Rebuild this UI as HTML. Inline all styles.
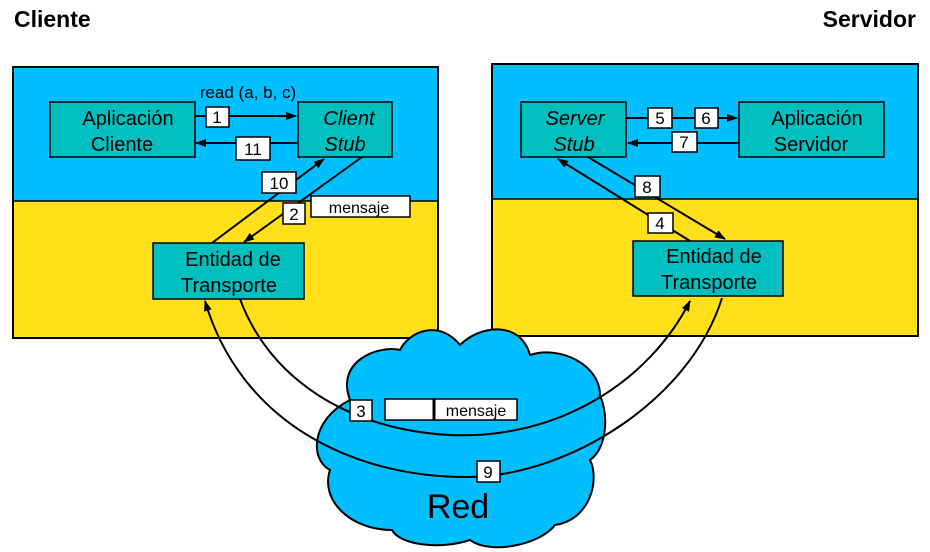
<!DOCTYPE html>
<html><head><meta charset="utf-8"><style>
body{margin:0;background:#fff;}
svg{display:block;font-family:"Liberation Sans",sans-serif;}
</style></head><body>
<svg width="930" height="552" viewBox="0 0 930 552">
<defs><marker id="a" markerWidth="11" markerHeight="8" refX="10" refY="4" orient="auto" markerUnits="userSpaceOnUse"><path d="M0,0L11,4L0,8z" fill="#000"/></marker></defs>
<text x="14" y="27" font-size="23" font-weight="bold">Cliente</text>
<text x="916" y="27" font-size="23" font-weight="bold" text-anchor="end">Servidor</text>
<rect x="13" y="67" width="425" height="134" fill="#00bfff"/>
<rect x="13" y="201" width="425" height="137" fill="#ffe01a"/>
<rect x="13" y="67" width="425" height="271" fill="none" stroke="#000" stroke-width="2"/>
<line x1="13" y1="201" x2="438" y2="201" stroke="#000" stroke-width="1.5"/>
<rect x="492" y="64" width="426" height="135" fill="#00bfff"/>
<rect x="492" y="199" width="426" height="137" fill="#ffe01a"/>
<rect x="492" y="64" width="426" height="272" fill="none" stroke="#000" stroke-width="2"/>
<line x1="492" y1="199" x2="918" y2="199" stroke="#000" stroke-width="1.5"/>
<g fill="#00bfbf" stroke="#000" stroke-width="1.5">
<rect x="50" y="102" width="145" height="55"/>
<rect x="298" y="102" width="94" height="55"/>
<rect x="153" y="243" width="151" height="56"/>
<rect x="521" y="102" width="105" height="55"/>
<rect x="739" y="102" width="145" height="55"/>
<rect x="633" y="241" width="150" height="55"/>
</g>
<g font-size="20" text-anchor="middle">
<text x="128" y="125">Aplicación</text><text x="122" y="151">Cliente</text>
<text x="349" y="125" font-style="italic">Client</text><text x="345" y="151" font-style="italic">Stub</text>
<text x="233" y="266">Entidad de</text><text x="229" y="292">Transporte</text>
<text x="575" y="125" font-style="italic">Server</text><text x="574" y="151" font-style="italic">Stub</text>
<text x="817" y="125">Aplicación</text><text x="811" y="151">Servidor</text>
<text x="714" y="263">Entidad de</text><text x="709" y="289">Transporte</text>
</g>
<text x="248" y="98" font-size="17" text-anchor="middle">read (a, b, c)</text>
<path d="M350,400 C335,360 380,345 400,350 C410,330 440,320 460,345 C480,325 520,320 530,355 C560,345 600,365 600,395 C610,420 605,450 590,460 C600,480 590,520 555,525 C540,545 490,555 470,540 C440,550 400,545 392,530 C350,530 320,500 330,470 C310,460 310,420 350,400 Z" fill="#00bfff" stroke="#000" stroke-width="2"/>
<text x="458" y="518" font-size="34" text-anchor="middle">Red</text>
<g stroke="#000" stroke-width="2" fill="none">
<line x1="195" y1="116" x2="296" y2="116" marker-end="url(#a)"/>
<line x1="298" y1="143" x2="196" y2="143" marker-end="url(#a)"/>
<line x1="212" y1="243" x2="324" y2="159" marker-end="url(#a)"/>
<line x1="362" y1="157" x2="244" y2="242" marker-end="url(#a)"/>
<line x1="626" y1="118" x2="737" y2="118" marker-end="url(#a)"/>
<line x1="739" y1="143" x2="628" y2="143" marker-end="url(#a)"/>
<line x1="690" y1="241" x2="558" y2="159" marker-end="url(#a)"/>
<line x1="588" y1="157" x2="725" y2="239" marker-end="url(#a)"/>
<path d="M240,299 C270,380 350,430 450,435 C560,440 650,380 690,301" marker-end="url(#a)"/>
<path d="M722,298 C690,400 570,475 470,477 C350,478 240,420 205,301" marker-end="url(#a)"/>
</g>
<g fill="#fff" stroke="#000" stroke-width="1.5">
<rect x="206" y="107" width="23" height="20"/>
<rect x="236" y="137" width="34" height="23"/>
<rect x="262" y="172" width="34" height="21"/>
<rect x="283" y="203" width="22" height="21"/>
<rect x="311" y="196" width="99" height="21"/>
<rect x="648" y="108" width="24" height="20"/>
<rect x="695" y="108" width="23" height="20"/>
<rect x="672" y="132" width="25" height="20"/>
<rect x="635" y="176" width="25" height="21"/>
<rect x="648" y="213" width="25" height="20"/>
<rect x="350" y="400" width="22" height="21"/>
<rect x="385" y="399" width="132" height="21"/>
<rect x="477" y="461" width="23" height="21"/>
</g>
<line x1="434" y1="399" x2="434" y2="420" stroke="#000" stroke-width="3"/>
<g font-size="17" text-anchor="middle">
<text x="217" y="123">1</text><text x="253" y="155">11</text><text x="279" y="189">10</text>
<text x="294" y="220">2</text><text x="359" y="213" font-size="16">mensaje</text>
<text x="660" y="124">5</text><text x="706" y="124">6</text><text x="684" y="148">7</text>
<text x="647" y="193">8</text><text x="660" y="229">4</text>
<text x="361" y="417">3</text><text x="476" y="416" font-size="16">mensaje</text><text x="488" y="478">9</text>
</g>
</svg>
</body></html>
